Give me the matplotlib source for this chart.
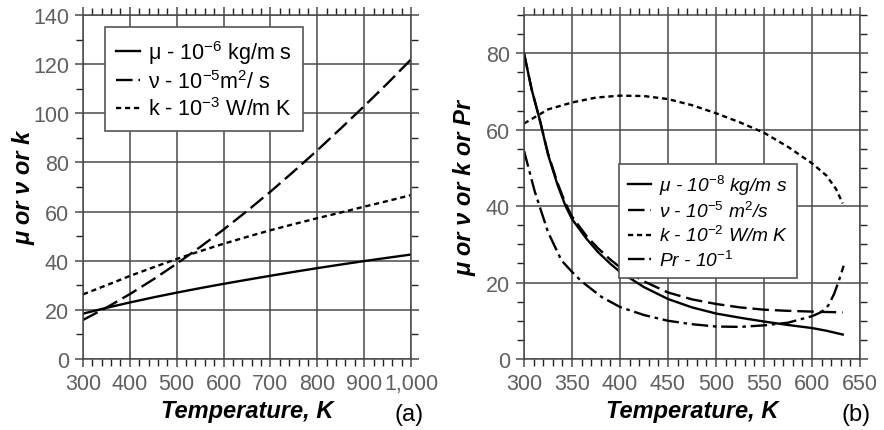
import numpy as np
import matplotlib.pyplot as plt
from matplotlib.ticker import MultipleLocator, FuncFormatter

plt.rcParams['font.family'] = ['Liberation Sans', 'DejaVu Sans']
plt.rcParams['mathtext.fontset'] = 'custom'
plt.rcParams['mathtext.rm'] = 'Liberation Sans'
plt.rcParams['mathtext.it'] = 'Liberation Sans:italic'

# (a) air properties
T_a = [300, 350, 400, 450, 500, 550, 600, 650, 700, 750, 800, 850, 900, 950, 1000]
mu_a = [18.46, 20.82, 23.01, 25.07, 27.01, 28.84, 30.58, 32.25, 33.87, 35.46, 36.98, 38.43, 39.85, 41.20, 42.52]
nu_a = [15.89, 20.92, 26.41, 32.39, 38.79, 45.57, 52.69, 60.21, 68.10, 76.37, 84.93, 93.80, 102.9, 112.2, 121.9]
k_a = [26.3, 30.0, 33.8, 37.3, 40.7, 43.9, 46.9, 49.7, 52.4, 54.9, 57.3, 59.6, 62.0, 64.3, 66.7]

# (b)
T_mu = [300, 308, 316, 325, 335, 343, 350, 365, 377, 390, 400, 425, 450, 475, 500, 525, 550, 575, 600, 615, 632]
mu_b = [80.0, 70.5, 63.0, 53.5, 45.5, 40.2, 36.6, 31.5, 28.0, 24.9, 22.8, 18.8, 15.7, 13.5, 11.9, 10.8, 9.8, 8.9, 8.1, 7.4, 6.4]
nu_b = [80.0, 70.5, 63.0, 53.8, 46.0, 40.8, 37.3, 32.2, 29.0, 26.0, 24.0, 20.3, 17.4, 15.6, 14.4, 13.5, 12.9, 12.6, 12.4, 12.3, 12.2]
T_k = [300, 325, 350, 375, 400, 425, 450, 475, 500, 525, 550, 575, 600, 615, 625, 632]
k_b = [61.6, 65.3, 67.1, 68.4, 68.9, 68.8, 68.0, 66.4, 64.3, 61.9, 59.2, 55.5, 51.2, 48.0, 44.5, 40.7]
T_pr = [300, 311, 325, 339, 350, 360, 381, 400, 425, 450, 475, 500, 525, 550, 575, 600, 610, 617, 623, 628, 633]
pr_b = [54.5, 44.0, 33.2, 25.8, 22.8, 20.3, 16.2, 13.6, 11.5, 10.0, 9.1, 8.5, 8.4, 8.8, 9.5, 11.2, 12.3, 14.0, 17.0, 20.5, 24.4]

fig = plt.figure(figsize=(8.84, 4.31), dpi=100)
ax1 = fig.add_axes([83/884, 71/431, 328/884, 344/431])
ax2 = fig.add_axes([524/884, 71/431, 336/884, 344/431])

lw = 1.7
tick_gray = '#606060'
grid_gray = '#4a4a4a'
lab_font = dict(fontsize=17, fontweight='bold', fontstyle='italic')

# left panel
ax1.plot(T_a, mu_a, color='black', lw=lw, label=r'μ - 10$^{-6}$ kg/m s')
ax1.plot(T_a, nu_a, color='black', lw=lw, dashes=(7, 2.5), label=r'ν - 10$^{-5}$m$^{2}$/ s')
ax1.plot(T_a, k_a, color='black', lw=lw, dashes=(2.2, 1.6), label=r'k - 10$^{-3}$ W/m K')
ax1.set_xlim(300, 1000)
ax1.set_ylim(0, 140)
ax1.xaxis.set_major_locator(MultipleLocator(100))
ax1.xaxis.set_minor_locator(MultipleLocator(20))
ax1.yaxis.set_major_locator(MultipleLocator(20))
ax1.yaxis.set_minor_locator(MultipleLocator(10))
ax1.xaxis.set_major_formatter(FuncFormatter(lambda v, p: f'{int(v):,}'))
ax1.set_ylabel('μ or ν or k', **lab_font)
ax1.yaxis.set_label_coords(-0.145, 0.5)
leg1 = ax1.legend(loc='upper left', bbox_to_anchor=(0.067, 0.965), borderaxespad=0,
                  handlelength=1.15, handletextpad=0.35, labelspacing=0.2, borderpad=0.5,
                  fancybox=False, framealpha=1, edgecolor='#555555',
                  prop={'size': 15.5})
leg1.get_frame().set_linewidth(1.2)

# right panel
ax2.plot(T_mu, mu_b, color='black', lw=lw, label=r'μ - 10$^{-8}$ kg/m s')
ax2.plot(T_mu, nu_b, color='black', lw=lw, dashes=(7, 2.5), label=r'ν - 10$^{-5}$ m$^{2}$/s')
ax2.plot(T_k, k_b, color='black', lw=lw, dashes=(2.2, 1.6), label=r'k - 10$^{-2}$ W/m K')
ax2.plot(T_pr, pr_b, color='black', lw=lw, dashes=(7, 2, 1.5, 2), label=r'Pr - 10$^{-1}$')
ax2.set_xlim(300, 650)
ax2.set_ylim(0, 90)
ax2.xaxis.set_major_locator(MultipleLocator(50))
ax2.xaxis.set_minor_locator(MultipleLocator(10))
ax2.yaxis.set_major_locator(MultipleLocator(20))
ax2.yaxis.set_minor_locator(MultipleLocator(5))
ax2.set_ylabel('μ or ν or k or Pr', **lab_font)
ax2.yaxis.set_label_coords(-0.142, 0.5)
leg2 = ax2.legend(loc='upper left', bbox_to_anchor=(0.283, 0.567), borderaxespad=0,
                  handlelength=1.2, handletextpad=0.45, labelspacing=0.22, borderpad=0.45,
                  fancybox=False, framealpha=1, edgecolor='#555555',
                  prop={'size': 13.8, 'style': 'italic'})
leg2.get_frame().set_linewidth(1.2)

for ax in (ax1, ax2):
    ax.grid(True, which='major', color=grid_gray, lw=1.1)
    ax.set_axisbelow(True)
    for s in ax.spines.values():
        s.set_color(grid_gray)
        s.set_linewidth(1.1)
    ax.tick_params(which='both', direction='out', top=True, right=True, labelsize=15.5,
                   labelcolor=tick_gray)
    ax.tick_params(which='major', length=5.5, width=1.1, color=grid_gray, pad=4.5)
    ax.tick_params(which='minor', length=5, width=1.0, color='#222222')
    ax.set_xlabel('Temperature, K', **lab_font)
    ax.xaxis.set_label_coords(0.5, -0.117)

fig.text(409/884, 1 - 415/431, '(a)', fontsize=17, ha='center', va='center')
fig.text(856/884, 1 - 415/431, '(b)', fontsize=17, ha='center', va='center')

fig.savefig('out.png', dpi=100)
